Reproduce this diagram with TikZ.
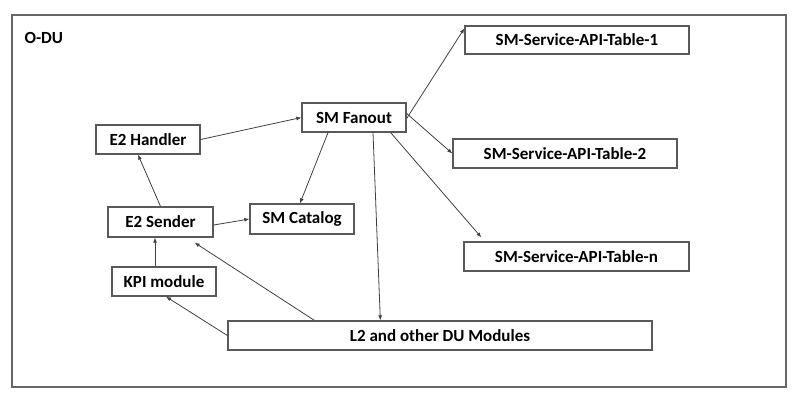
\documentclass[tikz,border=0pt]{standalone}
\usepackage{fontspec}
\setmainfont{Carlito}
\usepackage{tikz}
\usetikzlibrary{
    calc,
    arrows.meta
}
\tikzset{
  box/.style={draw=black!65,line width=1.3pt,fill=white,inner sep=0pt,
    font=\fontsize{17}{20}\selectfont\bfseries},
  arr/.style={draw=black!75,line width=0.8pt,-{Latex[length=5pt,width=4pt]}}
}

\begin{document}
\begin{tikzpicture}[x=1pt,y=-1pt]
\useasboundingbox (0,0) rectangle (806,405);
\draw[draw=black!60,line width=1.5pt] (12,15) rectangle (786,387);
\node[anchor=base west,font=\fontsize{17}{20}\selectfont\bfseries] (odu) at (21,43) {O-DU};

\node[box,minimum width=104pt,minimum height=29pt] (handler) at (148,139.5) {E2 Handler};
\node[box,minimum width=104pt,minimum height=29pt] (fanout) at (354,117.5) {SM Fanout};
\node[box,minimum width=105pt,minimum height=30pt] (sender) at (160.5,222) {E2 Sender};
\node[box,minimum width=104pt,minimum height=30pt] (catalog) at (302,219) {SM Catalog};
\node[box,minimum width=104pt,minimum height=29pt] (kpi) at (164,281.5) {KPI module};
\node[box,minimum width=424pt,minimum height=29pt] (l2) at (440,335.5) {L2 and other DU Modules};
\node[box,minimum width=224pt,minimum height=28pt] (tab1) at (577,40) {SM-Service-API-Table-1};
\node[box,minimum width=224pt,minimum height=29pt] (tab2) at (565,153.5) {SM-Service-API-Table-2};
\node[box,minimum width=225pt,minimum height=29pt] (tabn) at (576.5,256.5) {SM-Service-API-Table-n};

\draw[arr] (handler.east) -- (fanout.west);
\draw[arr] ($(fanout.south)+(-26,0)$) -- ($(catalog.north)+(-2,0)$);
\draw[arr] (sender.north) -- ($(handler.south)+(-10,0)$);
\draw[arr] ($(sender.east)+(0,3)$) -- (catalog.west);
\draw[arr] ($(kpi.north)+(-9,0)$) -- ($(sender.south)+(-5.5,0)$);
\draw[arr] (l2.west) -- ($(kpi.south)+(2,0)$);
\draw[arr] ($(l2.north west)+(87,0)$) -- ($(sender.south east)+(-19,5)$);
\draw[arr] ($(fanout.south)+(19,0)$) -- ($(l2.north west)+(153,0)$);
\draw[arr] ($(fanout.east)+(0,1)$) -- ($(tab1.north west)+(0,3)$);
\draw[arr] ($(fanout.east)+(0,-4)$) -- (tab2.west);
\draw[arr] ($(fanout.south east)+(-16,0)$) -- ($(tabn.north west)+(18,-4)$);
\end{tikzpicture}
\end{document}
